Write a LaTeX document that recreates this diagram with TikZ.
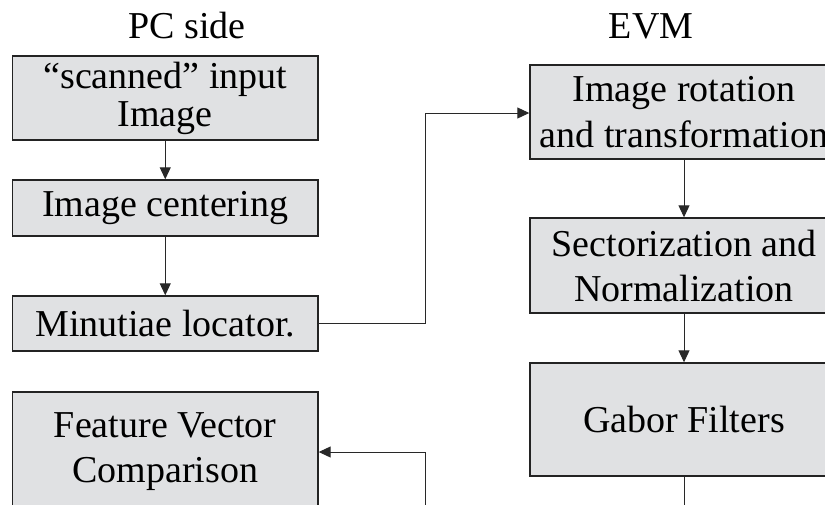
\documentclass[tikz,border=0pt]{standalone}
\usepackage{fontspec}
\setmainfont{Liberation Serif}
\usetikzlibrary{arrows.meta}
\definecolor{boxfill}{RGB}{224,225,227}
\definecolor{boxline}{RGB}{35,35,35}
\definecolor{conline}{RGB}{40,40,40}
\tikzset{
  stagebox/.style={draw=boxline, line width=1.4pt, fill=boxfill, minimum width=305.5pt,
    inner sep=0pt, align=center, font=\fontsize{38}{45}\selectfont},
  title/.style={font=\fontsize{38}{45}\selectfont, inner sep=0pt, anchor=base},
  conn/.style={draw=conline, line width=1pt, -{Triangle[length=12pt,width=11pt]}},
  plain/.style={draw=conline, line width=1pt}
}
\begin{document}
\begin{tikzpicture}[x=1pt,y=-1pt]
\useasboundingbox (0,0) rectangle (825,504);
\clip (0,0) rectangle (825,504);
\node[title] (pc) at (187,38) {PC side};
\node[title] (evm) at (651,38) {EVM};
\node[stagebox, minimum height=84pt, font=\fontsize{38}{38}\selectfont] (scan) at (165.25,98) {“scanned” input\\Image};
\node[stagebox, minimum height=56pt] (center) at (165.25,208) {Image centering};
\node[stagebox, minimum height=55pt] (minu) at (165.25,323.5) {Minutiae locator.};
\node[stagebox, minimum height=120pt] (feat) at (165.25,452) {Feature Vector\\Comparison};
\node[stagebox, minimum height=94pt, minimum width=308pt, font=\fontsize{38}{46}\selectfont] (rot) at (684,112) {Image rotation\\and transformation};
\node[stagebox, minimum height=95pt, minimum width=308pt] (sect) at (684,265.5) {Sectorization and\\Normalization};
\node[stagebox, minimum height=113pt, minimum width=308pt] (gabor) at (684,419.5) {Gabor Filters};
\coordinate (up) at (425,113);
\coordinate (low) at (425,530);
\coordinate (gb) at (684,530);
\draw[conn] (scan) -- (center);
\draw[conn] (center) -- (minu);
\draw[conn] (minu.east) -| (up) -- (rot.west |- up);
\draw[conn] (rot) -- (sect);
\draw[conn] (sect) -- (gabor);
\draw[conn] (gabor.south) -- (gb) -- (low) |- (feat.east);
\end{tikzpicture}
\end{document}
